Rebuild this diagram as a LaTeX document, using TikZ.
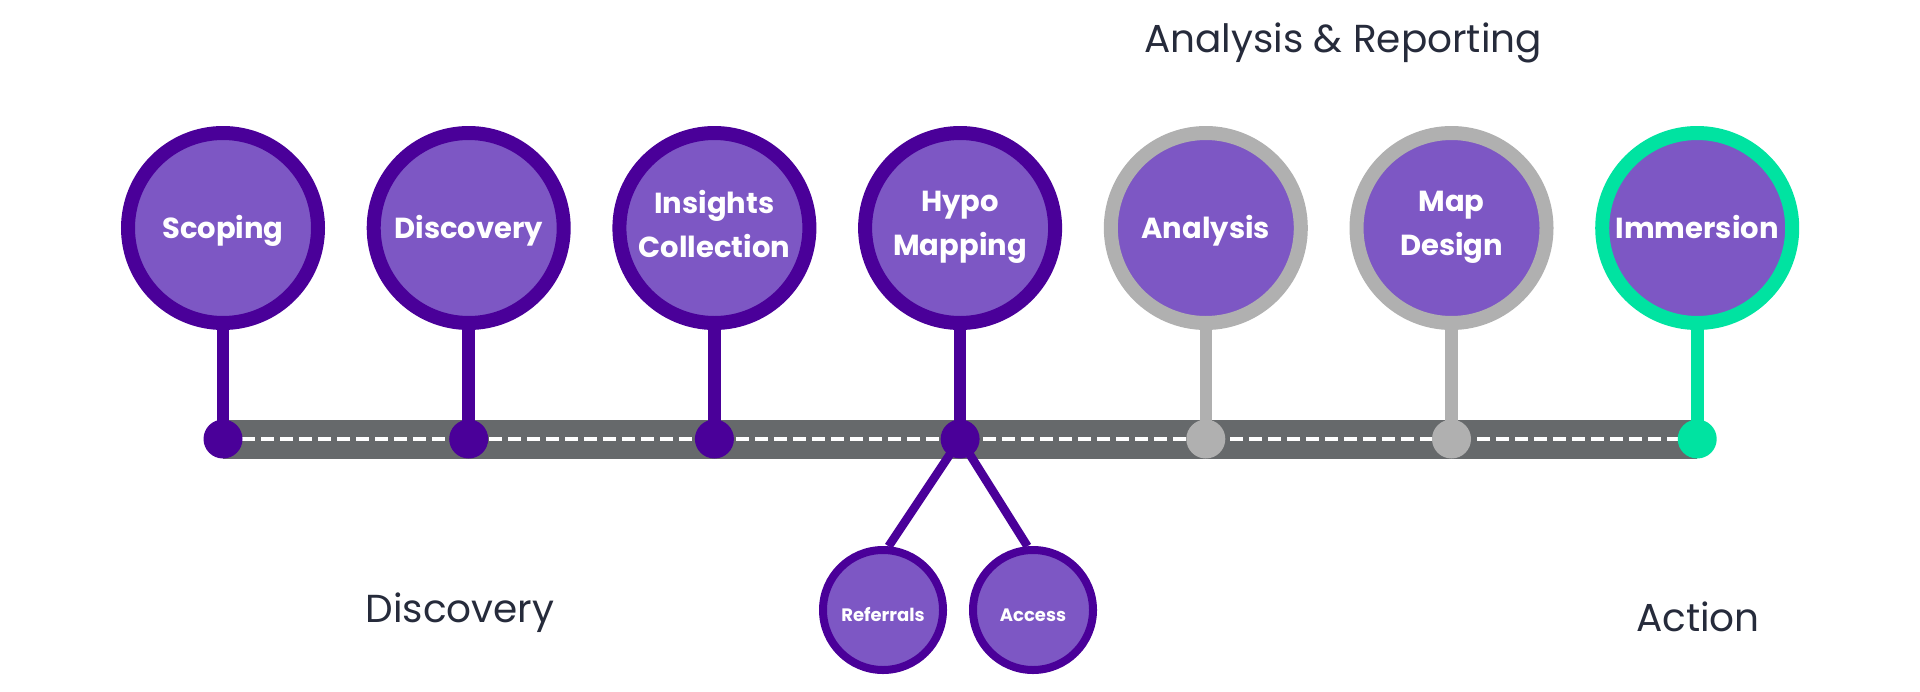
\documentclass[tikz,border=0pt]{standalone}
\usepackage{fontspec}
\usepackage{tikz}
\setmainfont{Poppins}
\usetikzlibrary{backgrounds}
\definecolor{mpurple}{rgb}{0.29, 0, 0.6}
\definecolor{mlilac}{rgb}{0.49, 0.34, 0.77}
\definecolor{mgrey}{rgb}{0.69, 0.69, 0.69}
\definecolor{mgreen}{rgb}{0, 0.89, 0.63}
\definecolor{mroad}{rgb}{0.4, 0.41, 0.42}
\definecolor{mink}{rgb}{0.15, 0.17, 0.23}
\newcommand{\lblstrut}{\rule[-4.5pt]{0pt}{19.5pt}}
\newcommand{\sublblstrut}{\rule[-2.7pt]{0pt}{16.7pt}}
\tikzset{stage/.style = {circle, minimum size = 95pt, line width = 7pt, fill = mlilac,
                         text = white, align = center, inner sep = 0,
                         font = \bfseries\fontsize{14.5}{22}\selectfont,
                         execute at begin node = \lblstrut,
                         execute at end node = \lblstrut}}
\tikzset{substage/.style = {circle, minimum size = 60pt, line width = 4pt, fill = mlilac,
                            draw = mpurple, text = white, inner sep = 0,
                            font = \bfseries\fontsize{9}{11}\selectfont,
                            execute at begin node = \sublblstrut}}
\tikzset{circ/.style = {fill, circle, inner sep = 0, minimum size = 19.5pt}}
\tikzset{phase/.style = {text = mink, anchor = base, font = \fontsize{19.5}{24}\selectfont}}

\begin{document}
\begin{tikzpicture}[x = 0.5pt, y = -0.5pt]
          \useasboundingbox (0, 0) rectangle (1920, 691);
          \foreach \i/\n/\t/\c in {0/scop/Scoping/mpurple, 1/disc/Discovery/mpurple,
                                   2/ins/{Insights\\Collection}/mpurple,
                                   3/hypo/{Hypo\\Mapping}/mpurple, 4/ana/Analysis/mgrey,
                                   5/map/{Map\\Design}/mgrey, 6/imm/Immersion/mgreen} {
             \pgfmathsetmacro{\x}{223 + 245.7 * \i}
             \node [stage, draw = \c] (\n) at (\x, 228) {\t};
             \node [circ, \c] (d\n) at (\x, 439) {};
             \draw [\c, line width = 6.3pt] (\n.south) -- (d\n.center);
          }
          \node [substage] (ref) at (883, 610) {Referrals};
          \node [substage] (acc) at (1033, 610) {Access};
          \draw [mpurple, line width = 4.3pt] (dhypo.center) -- (ref.85);
          \draw [mpurple, line width = 4.3pt] (dhypo.center) -- (acc.95);
          \begin{scope}[on background layer]
            \draw [mroad, line width = 19.5pt] (dscop.center) -- (dimm.center);
            \draw [white, line width = 2pt, dash pattern = on 6.5pt off 3pt]
                  (dscop.center) -- (dimm.center);
          \end{scope}
          \node [phase] (pan) at (1343, 52) {Analysis \& Reporting};
          \node [phase] (pdi) at (460, 622) {Discovery};
          \node [phase] (pac) at (1698, 631) {Action};
        \end{tikzpicture}
\end{document}
